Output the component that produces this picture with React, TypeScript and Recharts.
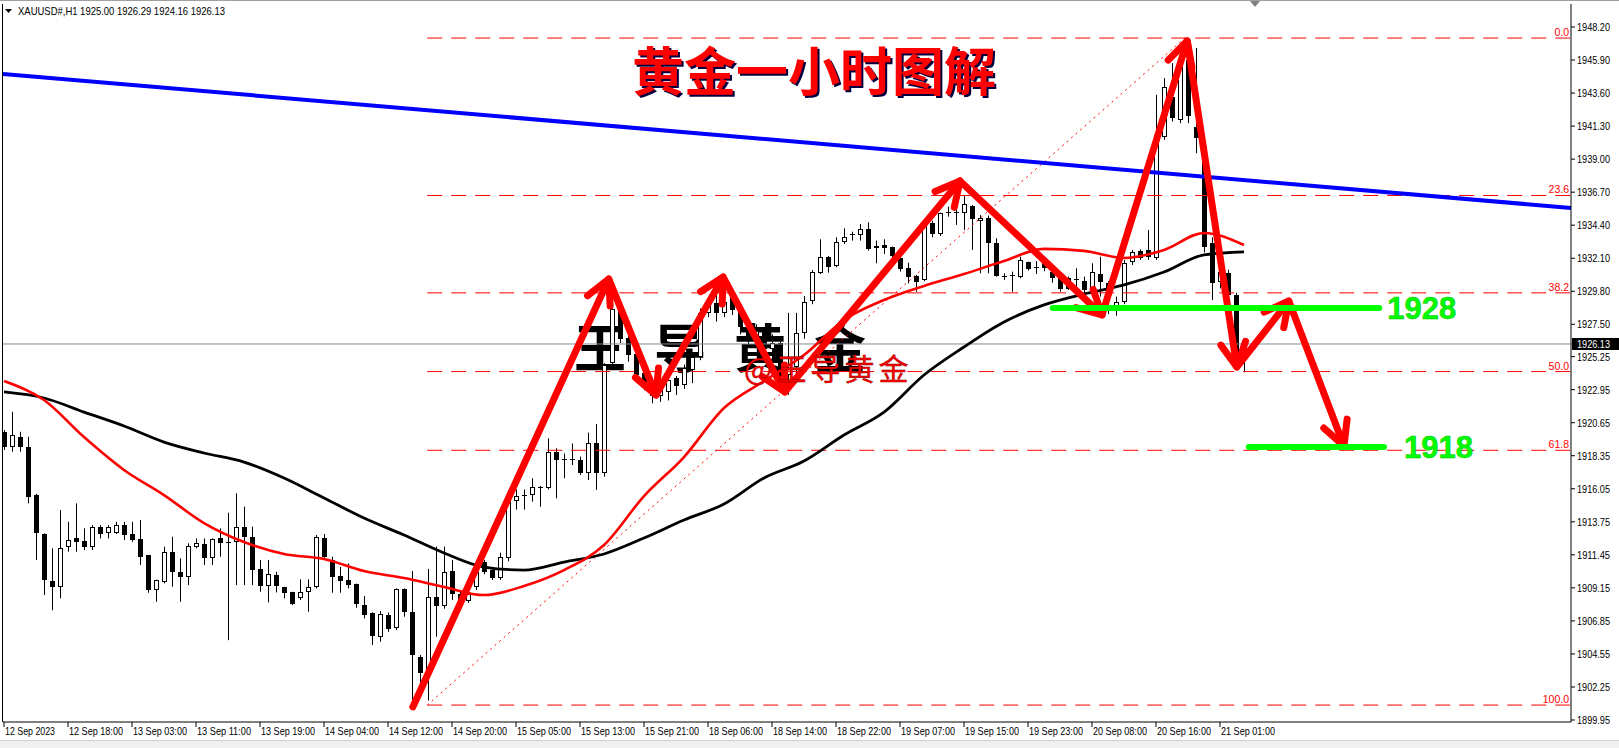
import React from 'react';
import { ComposedChart, Bar, Line, XAxis, YAxis, ReferenceLine } from 'recharts';

const W = 1619;
const H = 748;

// ---- H1 candles (bar index 0..155) ----
const opens = [
  1920.02, 1918.98, 1919.67, 1918.98, 1915.61, 1912.90, 1909.62, 1909.23, 1912.01, 1912.62,
  1912.39, 1912.01, 1913.41, 1912.94, 1912.94, 1913.50, 1912.90, 1912.55, 1911.43, 1909.00,
  1909.58, 1911.62, 1910.25, 1909.88, 1911.97, 1912.18, 1911.20, 1912.59, 1912.32, 1912.32,
  1913.36, 1912.66, 1910.43, 1909.30, 1910.04, 1909.18, 1908.83, 1908.42, 1908.88, 1909.18,
  1912.59, 1911.09, 1909.97, 1909.69, 1909.41, 1907.93, 1907.42, 1905.75, 1907.26, 1906.33,
  1909.07, 1907.49, 1904.36, 1903.10, 1908.49, 1907.91, 1910.33, 1908.70, 1908.24, 1909.23,
  1910.93, 1910.40, 1909.82, 1911.23, 1915.20, 1915.57, 1915.62, 1916.20, 1916.10, 1918.64,
  1918.06, 1918.06, 1918.06, 1917.13, 1919.22, 1917.13, 1924.81, 1928.52, 1926.57, 1925.46,
  1924.10, 1923.40, 1922.50, 1922.80, 1923.78, 1923.28, 1924.30, 1925.25, 1928.27, 1928.97,
  1928.27, 1929.66, 1928.50, 1927.30, 1926.50, 1927.00, 1925.80, 1926.20, 1924.00, 1924.53,
  1926.92, 1929.15, 1931.10, 1932.16, 1931.56, 1933.26, 1933.79, 1933.72, 1934.11, 1932.84,
  1933.02, 1932.86, 1932.10, 1931.40, 1930.87, 1930.59, 1934.53, 1933.77, 1935.30, 1935.35,
  1935.23, 1935.74, 1934.70, 1934.93, 1933.14, 1930.87, 1930.87, 1930.77, 1931.82, 1931.40,
  1931.98, 1931.17, 1930.82, 1930.70, 1930.63, 1930.54, 1929.89, 1931.00, 1930.35, 1928.78,
  1929.08, 1931.86, 1932.63, 1932.70, 1932.10, 1940.57, 1943.36, 1941.73, 1945.90, 1941.27,
  1939.88, 1933.14, 1930.47, 1931.10, 1929.54, 1925.00,
];
const highs = [
  1920.14, 1921.41, 1920.02, 1919.67, 1915.70, 1912.95, 1911.90, 1914.57, 1913.75, 1915.03,
  1913.29, 1913.52, 1913.52, 1913.52, 1913.75, 1913.75, 1913.75, 1913.87, 1911.45, 1909.72,
  1912.01, 1912.71, 1911.20, 1912.25, 1912.59, 1912.59, 1912.59, 1913.29, 1914.38, 1915.73,
  1914.80, 1913.41, 1911.09, 1911.09, 1910.27, 1909.23, 1908.88, 1909.74, 1909.74, 1912.83,
  1912.90, 1911.32, 1910.62, 1910.85, 1909.45, 1908.58, 1907.45, 1907.53, 1907.44, 1909.11,
  1909.11, 1910.33, 1904.48, 1910.47, 1912.02, 1912.02, 1911.09, 1909.00, 1909.50, 1910.97,
  1911.09, 1910.60, 1911.60, 1915.60, 1916.00, 1916.00, 1916.78, 1916.25, 1919.56, 1918.87,
  1918.50, 1919.20, 1918.29, 1919.96, 1920.56, 1924.79, 1929.75, 1929.20, 1926.80, 1925.50,
  1924.50, 1923.80, 1923.30, 1924.00, 1923.90, 1924.70, 1925.40, 1928.60, 1929.40, 1929.66,
  1929.70, 1929.89, 1928.80, 1927.90, 1927.50, 1927.30, 1926.80, 1926.50, 1928.30, 1928.30,
  1929.47, 1931.28, 1933.42, 1932.26, 1933.56, 1934.18, 1933.95, 1934.49, 1934.60, 1933.33,
  1933.42, 1932.91, 1932.21, 1931.79, 1930.94, 1934.77, 1934.72, 1935.28, 1935.69, 1935.93,
  1936.51, 1935.80, 1935.11, 1935.07, 1933.49, 1931.05, 1931.17, 1932.21, 1931.86, 1931.90,
  1932.10, 1931.30, 1931.05, 1930.82, 1931.40, 1930.82, 1931.75, 1932.21, 1930.50, 1929.43,
  1931.98, 1932.68, 1932.72, 1934.07, 1943.48, 1944.64, 1945.68, 1946.38, 1947.43, 1946.73,
  1940.30, 1933.56, 1931.63, 1931.30, 1929.70, 1926.29,
];
const lows = [
  1918.75, 1918.63, 1918.63, 1915.03, 1911.09, 1908.65, 1907.60, 1908.42, 1911.67, 1911.67,
  1911.78, 1911.78, 1912.59, 1912.59, 1912.90, 1912.48, 1912.36, 1910.74, 1908.81, 1908.18,
  1909.46, 1909.23, 1908.18, 1909.34, 1911.90, 1910.74, 1910.74, 1911.32, 1905.51, 1909.34,
  1909.34, 1909.34, 1908.88, 1908.14, 1908.83, 1908.42, 1907.95, 1908.30, 1907.49, 1909.11,
  1911.25, 1908.81, 1908.81, 1909.11, 1907.77, 1907.02, 1905.17, 1905.40, 1906.09, 1906.21,
  1907.14, 1900.99, 1902.00, 1901.30, 1905.75, 1907.70, 1908.31, 1908.00, 1908.10, 1909.00,
  1910.10, 1909.70, 1909.70, 1911.00, 1914.60, 1914.60, 1915.15, 1914.80, 1916.00, 1915.39,
  1916.78, 1917.70, 1917.01, 1916.66, 1915.97, 1916.89, 1924.50, 1926.20, 1924.90, 1923.70,
  1922.90, 1922.00, 1922.10, 1922.20, 1922.58, 1923.00, 1923.40, 1925.00, 1928.00, 1927.69,
  1928.00, 1928.15, 1926.80, 1926.00, 1926.00, 1925.30, 1925.00, 1923.20, 1922.60, 1924.00,
  1926.50, 1928.90, 1931.00, 1931.10, 1931.47, 1933.09, 1933.33, 1933.33, 1932.63, 1931.75,
  1932.40, 1932.10, 1931.17, 1930.35, 1929.77, 1930.50, 1933.56, 1933.65, 1935.00, 1934.42,
  1934.07, 1932.68, 1931.05, 1931.05, 1930.82, 1930.59, 1929.77, 1930.70, 1931.24, 1931.00,
  1931.20, 1930.40, 1929.77, 1929.89, 1930.12, 1929.66, 1929.70, 1929.43, 1928.20, 1928.10,
  1928.90, 1931.63, 1931.98, 1931.98, 1931.98, 1940.34, 1941.62, 1941.50, 1941.50, 1939.41,
  1932.50, 1929.19, 1930.00, 1929.20, 1924.80, 1924.16,
];
const closes = [
  1918.98, 1919.79, 1918.98, 1915.50, 1912.94, 1909.69, 1909.23, 1911.90, 1912.48, 1912.36,
  1912.01, 1913.41, 1912.90, 1913.41, 1913.50, 1912.83, 1912.48, 1911.32, 1909.00, 1909.69,
  1911.62, 1910.23, 1909.92, 1912.06, 1912.25, 1911.20, 1912.57, 1912.25, 1912.34, 1913.36,
  1912.66, 1910.39, 1909.30, 1910.09, 1909.30, 1908.76, 1908.02, 1908.83, 1909.23, 1912.71,
  1911.32, 1909.92, 1909.65, 1909.34, 1908.02, 1907.26, 1905.79, 1907.30, 1906.28, 1909.07,
  1907.49, 1904.48, 1903.20, 1908.54, 1907.91, 1910.23, 1908.70, 1908.26, 1908.70, 1910.23,
  1910.28, 1909.82, 1911.28, 1915.20, 1915.55, 1915.62, 1916.15, 1916.10, 1918.64, 1918.06,
  1918.10, 1918.10, 1917.13, 1919.22, 1917.13, 1924.67, 1928.57, 1926.50, 1925.39, 1924.00,
  1923.30, 1922.50, 1922.90, 1923.60, 1923.20, 1924.44, 1925.25, 1928.27, 1928.85, 1928.27,
  1929.08, 1928.50, 1927.30, 1926.50, 1927.00, 1925.80, 1926.20, 1923.90, 1924.40, 1926.90,
  1929.08, 1931.17, 1932.16, 1931.51, 1933.26, 1933.56, 1933.70, 1934.11, 1932.74, 1932.98,
  1932.84, 1932.26, 1931.33, 1930.82, 1930.47, 1934.50, 1933.77, 1935.23, 1935.25, 1935.30,
  1935.88, 1934.81, 1934.88, 1933.14, 1930.87, 1930.80, 1930.90, 1931.98, 1931.33, 1931.50,
  1931.40, 1930.70, 1929.94, 1929.94, 1930.60, 1929.89, 1931.17, 1930.47, 1929.40, 1929.08,
  1931.79, 1932.56, 1932.10, 1932.20, 1940.69, 1944.01, 1941.85, 1946.03, 1942.00, 1940.46,
  1932.91, 1930.35, 1931.17, 1929.55, 1925.00, 1926.13,
];

// ---- moving averages, read every 5 bars ----
const maIdx = [0, 5, 10, 15, 20, 25, 30, 35, 40, 45, 50, 55, 60, 65, 70, 75, 80, 85, 90, 95, 100, 105, 110, 115, 120, 125, 130, 135, 140, 145, 150, 155];
const maRed = [1923.55, 1922.23, 1919.65, 1917.36, 1915.61, 1913.66, 1912.34, 1911.51, 1911.16, 1910.32, 1909.83, 1909.21, 1908.65, 1909.28, 1910.39, 1912.13, 1915.54, 1918.26, 1921.67, 1923.55, 1925.36, 1927.80, 1929.19, 1930.17, 1931.00, 1931.91, 1932.75, 1932.61, 1932.12, 1932.68, 1933.86, 1933.02];
const maBlack = [1922.79, 1922.37, 1921.39, 1920.42, 1919.30, 1918.54, 1917.91, 1916.80, 1915.41, 1914.01, 1912.83, 1911.58, 1910.60, 1910.39, 1910.95, 1911.51, 1912.62, 1913.87, 1914.99, 1916.80, 1917.98, 1919.79, 1921.39, 1923.97, 1925.92, 1927.66, 1928.85, 1929.61, 1930.24, 1931.14, 1932.33, 1932.54];

// ---- axes ----
const timeTickIdx = [0, 8, 16, 24, 32, 40, 48, 56, 64, 72, 80, 88, 96, 104, 112, 120, 128, 136, 144, 152];
const timeTickLabels = [
  '12 Sep 2023', '12 Sep 18:00', '13 Sep 03:00', '13 Sep 11:00', '13 Sep 19:00', '14 Sep 04:00',
  '14 Sep 12:00', '14 Sep 20:00', '15 Sep 05:00', '15 Sep 13:00', '15 Sep 21:00', '18 Sep 06:00',
  '18 Sep 14:00', '18 Sep 22:00', '19 Sep 07:00', '19 Sep 15:00', '19 Sep 23:00', '20 Sep 08:00',
  '20 Sep 16:00', '21 Sep 01:00',
];
const priceTicks = [1948.2, 1945.9, 1943.6, 1941.3, 1939.0, 1936.7, 1934.4, 1932.1, 1929.8, 1927.5, 1925.25, 1922.95, 1920.65, 1918.35, 1916.05, 1913.75, 1911.45, 1909.15, 1906.85, 1904.55, 1902.25, 1899.95];
const X_DOMAIN = [-0.125, 195.875];
const Y_DOMAIN = [1899.811, 1949.801];

// ---- fibonacci ----
const fibLabels = ['0.0', '23.6', '38.2', '50.0', '61.8', '100.0'];
const fibRatios = [0, 0.236, 0.382, 0.5, 0.618, 1];
const fibHigh = 1947.43;
const fibLow = 1900.99;
const fibStartIdx = 52.9;
const fibEndIdx = 147.6;

// ---- annotations ----
const zigIdx = [51.1, 75.6, 81.5, 89.9, 97.6, 119.5, 137.25, 147.9, 154.1, 160.6, 167.5];
const zigPrice = [1900.86, 1930.65, 1922.58, 1930.79, 1922.79, 1937.48, 1928.15, 1947.23, 1924.53, 1929.12, 1919.03];
const trendIdx = [-0.125, 195.875];
const trendPrice = [1944.93, 1935.6];
const levelPrices = [1928.64, 1918.96];
const levelFrom = [131.1, 155.6];
const levelTo = [171.9, 172.5];
const levelLabels = ['1928', '1918'];
const levelGap = [8, 20];
const lastPrice = 1926.13;
const headerText = 'XAUUSD#,H1  1925.00 1926.29 1924.16 1926.13';

const maRedMap = new Map(maIdx.map((i, k) => [i, maRed[k]]));
const maBlackMap = new Map(maIdx.map((i, k) => [i, maBlack[k]]));
const rows = opens.map((o, k) => ({
  i: k,
  range: [lows[k], highs[k]],
  o,
  hi: highs[k],
  lo: lows[k],
  c: closes[k],
  maRed: maRedMap.has(k) ? maRedMap.get(k) : null,
  maBlack: maBlackMap.has(k) ? maBlackMap.get(k) : null,
}));

const AXIS_FONT = "'Liberation Sans', Arial, sans-serif";
const CJK = "'Noto Sans CJK SC', sans-serif";

const Candle = (props: any) => {
  const { x, y, width, height } = props;
  const d = props.payload || props;
  if (x == null || y == null || d == null) return null;
  const cx = Math.round(x + width / 2);
  const top = Math.min(y, y + height);
  const h = Math.abs(height);
  const span = d.hi - d.lo;
  const ratio = span > 0 ? h / span : 0;
  const py = (v: number) => top + (d.hi - v) * ratio;
  const bTop = Math.round(py(Math.max(d.o, d.c)));
  const bBot = Math.round(py(Math.min(d.o, d.c)));
  const bull = d.c >= d.o;
  return (
    <g>
      <line x1={cx + 0.5} x2={cx + 0.5} y1={top} y2={top + h} stroke="#000" strokeWidth={1} />
      {bull ? (
        <rect x={cx - 1.5} y={bTop + 0.5} width={4} height={Math.max(0, bBot - bTop - 1) || 0.01} fill="#fff" stroke="#000" strokeWidth={1} />
      ) : (
        <rect x={cx - 2} y={bTop} width={5} height={Math.max(1, bBot - bTop)} fill="#000" />
      )}
    </g>
  );
};

const Arrow = (p: any) => {
  const { x1, y1, x2, y2 } = p;
  if ([x1, y1, x2, y2].some((v) => v == null || isNaN(v))) return null;
  const dx = x2 - x1;
  const dy = y2 - y1;
  const len = Math.hypot(dx, dy) || 1;
  const ux = dx / len;
  const uy = dy / len;
  const L = 27;
  const a = 0.48;
  const ca = Math.cos(a);
  const sa = Math.sin(a);
  const b1x = -ux * ca + uy * sa;
  const b1y = -uy * ca - ux * sa;
  const b2x = -ux * ca - uy * sa;
  const b2y = -uy * ca + ux * sa;
  return (
    <g stroke="#ff0000" strokeWidth={7} fill="none" strokeLinecap="round" strokeLinejoin="round">
      <line x1={x1} y1={y1} x2={x2 - ux * 3} y2={y2 - uy * 3} />
      <polyline points={`${x2 + L * b1x},${y2 + L * b1y} ${x2},${y2} ${x2 + L * b2x},${y2 + L * b2y}`} />
    </g>
  );
};

const makeLevel = (text: string, gap: number) => (p: any) => {
  const { x1, y1, x2, y2 } = p;
  if (x1 == null || isNaN(x1)) return null;
  return (
    <g>
      <line x1={x1} y1={y1} x2={x2} y2={y2} stroke="#00ff00" strokeWidth={6} strokeLinecap="round" />
      <text x={x2 + gap} y={y2 + 11} fill="#00ff00" stroke="#00c000" strokeWidth={0.5} fontFamily="'Liberation Sans', Arial, sans-serif" fontWeight="bold" fontSize={31}>
        {text}
      </text>
    </g>
  );
};

const makeFibLabel = (text: string) => (p: any) => {
  const vb = p.viewBox || {};
  const xr = (vb.x || 0) + (vb.width || 0) - 2;
  const yy = vb.y || 0;
  return (
    <text x={xr} y={yy - 2} textAnchor="end" fill="#ff0000" fontFamily={AXIS_FONT} fontSize={10.5}>
      {text}
    </text>
  );
};

const PriceBox = (p: any) => {
  const vb = p.viewBox || {};
  const xr = (vb.x || 0) + (vb.width || 0);
  const yy = vb.y || 0;
  return (
    <g>
      <rect x={xr + 1} y={yy - 6} width={47} height={12} fill="#000" />
      <text x={xr + 6} y={yy + 4} fill="#fff" fontFamily={AXIS_FONT} fontSize={10.5} textLength={33} lengthAdjust="spacingAndGlyphs">
        {lastPrice.toFixed(2)}
      </text>
    </g>
  );
};

const TimeTick = (p: any) => {
  const { x, y, payload } = p;
  const k = timeTickIdx.indexOf(payload.value);
  const label = timeTickLabels[k] || '';
  return (
    <text x={x + 1} y={y + 8} fill="#000" fontFamily={AXIS_FONT} fontSize={10.5} textLength={label.length === 11 ? 50 : 54} lengthAdjust="spacingAndGlyphs">
      {label}
    </text>
  );
};

const PriceTick = (p: any) => {
  const { x, y, payload } = p;
  return (
    <text x={x} y={y + 4} fill="#000" fontFamily={AXIS_FONT} fontSize={10.5} textLength={33} lengthAdjust="spacingAndGlyphs">
      {Number(payload.value).toFixed(2)}
    </text>
  );
};

export default function App() {
  const fibPrices = fibRatios.map((r) => fibHigh - (fibHigh - fibLow) * r);
  return (
    <div style={{ position: 'absolute', left: 0, top: 0, width: W, height: H, background: '#fff', overflow: 'hidden' }}>
      {/* underlay: watermark */}
      <svg width={W} height={H} style={{ position: 'absolute', left: 0, top: 0 }}>
        <text x={574} y={368} fontFamily={CJK} fontWeight={700} fontSize={52} fill="#000" letterSpacing={28}>
          王导黄金
        </text>
      </svg>
      <div style={{ position: 'absolute', left: 0, top: 0 }}>
        <ComposedChart width={W} height={H} data={rows} margin={{ top: 4, right: 0, bottom: 0, left: 3 }}>
          <XAxis
            type="number"
            dataKey="i"
            domain={X_DOMAIN}
            ticks={timeTickIdx}
            interval={0}
            allowDataOverflow
            height={26}
            tickSize={5}
            tickMargin={0}
            tick={<TimeTick />}
            axisLine={{ stroke: '#000', strokeWidth: 1 }}
            tickLine={{ stroke: '#000' }}
          />
          <YAxis
            orientation="right"
            type="number"
            domain={Y_DOMAIN}
            ticks={priceTicks}
            interval={0}
            allowDataOverflow
            width={48}
            tickSize={4}
            tickMargin={2}
            tick={<PriceTick />}
            axisLine={{ stroke: '#000', strokeWidth: 1 }}
            tickLine={{ stroke: '#000' }}
          />
          {fibPrices.map((fp, k) => (
            <ReferenceLine
              key={'fib' + k}
              segment={[{ x: fibStartIdx, y: fp }, { x: X_DOMAIN[1], y: fp }]}
              stroke="#ff0000"
              strokeWidth={1}
              strokeDasharray="15 9"
              ifOverflow="visible"
              label={makeFibLabel(fibLabels[k])}
            />
          ))}
          <ReferenceLine
            segment={[{ x: fibStartIdx, y: fibLow }, { x: fibEndIdx, y: fibHigh }]}
            stroke="#ff0000"
            strokeWidth={1}
            strokeDasharray="2 4"
            ifOverflow="visible"
          />
          <ReferenceLine y={lastPrice} stroke="#7f8a99" strokeWidth={1} ifOverflow="visible" label={PriceBox} />
          <ReferenceLine
            segment={[{ x: trendIdx[0], y: trendPrice[0] }, { x: trendIdx[1], y: trendPrice[1] }]}
            stroke="#0000ff"
            strokeWidth={4}
            ifOverflow="visible"
          />
          <Bar dataKey="range" barSize={5} shape={<Candle />} isAnimationActive={false} />
          <Line dataKey="maBlack" type="monotone" stroke="#000" strokeWidth={2.8} dot={false} connectNulls isAnimationActive={false} />
          <Line dataKey="maRed" type="monotone" stroke="#ff0000" strokeWidth={2.6} dot={false} connectNulls isAnimationActive={false} />
          {zigIdx.slice(1).map((ix, k) => (
            <ReferenceLine
              key={'arr' + k}
              segment={[{ x: zigIdx[k], y: zigPrice[k] }, { x: ix, y: zigPrice[k + 1] }]}
              ifOverflow="visible"
              shape={Arrow}
            />
          ))}
          {levelPrices.map((lp, k) => (
            <ReferenceLine
              key={'lvl' + k}
              segment={[{ x: levelFrom[k], y: lp }, { x: levelTo[k], y: lp }]}
              ifOverflow="visible"
              shape={makeLevel(levelLabels[k], levelGap[k])}
            />
          ))}
        </ComposedChart>
      </div>
      {/* overlay texts */}
      <svg width={W} height={H} style={{ position: 'absolute', left: 0, top: 0, pointerEvents: 'none' }}>
        <line x1={0} y1={0.5} x2={W} y2={0.5} stroke="#a0a0a0" />
        <line x1={2.5} y1={4} x2={2.5} y2={722} stroke="#000" />
        <polygon points="5,9 12,9 8.5,13" fill="#000" />
        <text x={18} y={15} fontFamily={AXIS_FONT} fontSize={10.5} fill="#000" textLength={207} lengthAdjust="spacingAndGlyphs">
          {headerText}
        </text>
        <polygon points="1250,1 1260,1 1255,7" fill="#808080" />
        <text x={634} y={93} fontFamily={CJK} fontWeight={700} fontSize={52} fill="#000040">
          黄金一小时图解
        </text>
        <text x={632} y={91} fontFamily={CJK} fontWeight={700} fontSize={52} fill="#ff0000">
          黄金一小时图解
        </text>
        <text x={744} y={380} fontFamily={CJK} fontSize={30} fill="#ff0000" stroke="#800000" strokeWidth={0.4} letterSpacing={4}>
          @王导黄金
        </text>
        <rect x={0} y={741} width={W} height={7} fill="#f0f0f0" />
        <line x1={0} y1={740.5} x2={W} y2={740.5} stroke="#d0d0d0" />
      </svg>
    </div>
  );
}
